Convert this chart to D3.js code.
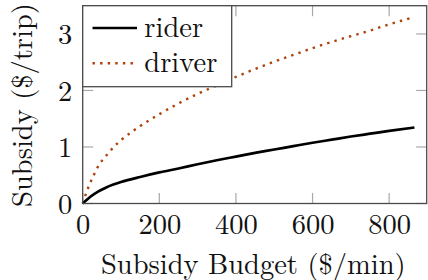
<!DOCTYPE html>
<html>
<head>
<meta charset="utf-8">
<script src="https://cdn.jsdelivr.net/npm/d3@7"></script>
<style>
  html, body { margin: 0; padding: 0; background: #fff; }
  svg { display: block; }
</style>
</head>
<body>
<svg id="chart" width="428" height="280"></svg>
<script>
// ---- data ----
const budgetRider = [0, 20, 40, 60, 80, 100, 150, 200, 250, 300, 350, 400, 450, 500, 550, 600, 650, 700, 750, 800, 866];
const riderSubsidy = [0, 0.12, 0.21, 0.28, 0.335, 0.38, 0.47, 0.55, 0.62, 0.695, 0.765, 0.83, 0.895, 0.955, 1.015, 1.075, 1.13, 1.185, 1.235, 1.285, 1.345];
const budgetDriver = [0, 10, 18, 26, 35, 45, 56, 69, 84, 100, 150, 200, 250, 300, 350, 400, 450, 500, 550, 600, 650, 700, 750, 800, 866];
const driverSubsidy = [0, 0.2, 0.34, 0.46, 0.59, 0.71, 0.80, 0.91, 1.02, 1.12, 1.37, 1.58, 1.77, 1.94, 2.09, 2.24, 2.38, 2.51, 2.63, 2.75, 2.86, 2.96, 3.06, 3.17, 3.30];
const xTicks = [0, 200, 400, 600, 800];
const yTicks = [0, 1, 2, 3];
const seriesNames = ["rider", "driver"];
const xTitle = "Subsidy Budget ($/min)";
const yTitle = "Subsidy ($/trip)";

// ---- layout ----
const FONT = '"Latin Modern Roman", "Liberation Serif", serif';
const L = 82.7, R = 426.7, T = 5.7, B = 203.5;
const svg = d3.select("#chart");
const x = d3.scaleLinear().domain([0, 898]).range([L, R]);
const y = d3.scaleLinear().domain([0, 3.5]).range([B, T]);
const tickLen = 10.5, tickColor = "#a8a8a8", axisColor = "#4a4a4a";
const driverColor = "#b0420a";
const dotDash = "2.4 5.2";

// ticks (inside, mirrored)
const gx = svg.append("g").attr("class", "xticks");
xTicks.forEach(v => {
  gx.append("line").attr("x1", x(v)).attr("x2", x(v)).attr("y1", B).attr("y2", B - tickLen)
    .attr("stroke", tickColor).attr("stroke-width", 1.2);
  gx.append("line").attr("x1", x(v)).attr("x2", x(v)).attr("y1", T).attr("y2", T + tickLen)
    .attr("stroke", tickColor).attr("stroke-width", 1.2);
});
const gy = svg.append("g").attr("class", "yticks");
yTicks.forEach(v => {
  gy.append("line").attr("x1", L).attr("x2", L + tickLen).attr("y1", y(v)).attr("y2", y(v))
    .attr("stroke", tickColor).attr("stroke-width", 1.2);
  gy.append("line").attr("x1", R).attr("x2", R - tickLen).attr("y1", y(v)).attr("y2", y(v))
    .attr("stroke", tickColor).attr("stroke-width", 1.2);
});

// tick labels via d3 axes (no lines)
const xAxis = svg.append("g").attr("transform", `translate(0,${B})`)
  .call(d3.axisBottom(x).tickValues(xTicks).tickSize(0).tickPadding(0).tickFormat(d3.format("d")));
xAxis.select(".domain").remove();
xAxis.selectAll("text").attr("dy", null).attr("y", 30).attr("font-size", 28.5)
  .style("font-family", FONT).attr("fill", "#111");
const yAxis = svg.append("g").attr("transform", `translate(${L},0)`)
  .call(d3.axisLeft(y).tickValues(yTicks).tickSize(0).tickPadding(0).tickFormat(d3.format("d")));
yAxis.select(".domain").remove();
yAxis.selectAll("text").attr("x", -10.5).attr("dy", "0.34em").attr("font-size", 28.5)
  .style("font-family", FONT).attr("fill", "#111");

// lines
const lineGen = d3.line().x(d => x(d[0])).y(d => y(d[1])).curve(d3.curveMonotoneX);
const riderPts = budgetRider.map((b, i) => [b, riderSubsidy[i]]);
const driverPts = budgetDriver.map((b, i) => [b, driverSubsidy[i]]);
svg.append("path").datum(driverPts).attr("d", lineGen).attr("fill", "none")
  .attr("stroke", driverColor).attr("stroke-width", 2.4).attr("stroke-dasharray", dotDash);
svg.append("path").datum(riderPts).attr("d", lineGen).attr("fill", "none")
  .attr("stroke", "#000").attr("stroke-width", 2.7).attr("stroke-linejoin", "round");

// frame
svg.append("rect").attr("x", L).attr("y", T).attr("width", R - L).attr("height", B - T)
  .attr("fill", "none").attr("stroke", axisColor).attr("stroke-width", 1.3);

// legend
const lg = svg.append("g");
lg.append("rect").attr("x", L).attr("y", T).attr("width", 149).attr("height", 81)
  .attr("fill", "#fff").attr("stroke", axisColor).attr("stroke-width", 1.3);
const legendRows = [
  { name: seriesNames[0], color: "#000", dash: null, w: 2.7, ly: 28, ty: 36.7 },
  { name: seriesNames[1], color: driverColor, dash: dotDash, w: 2.4, ly: 63.3, ty: 71.7 }
];
legendRows.forEach(r => {
  const ln = lg.append("line").attr("x1", 92.5).attr("x2", 137).attr("y1", r.ly).attr("y2", r.ly)
    .attr("stroke", r.color).attr("stroke-width", r.w);
  if (r.dash) ln.attr("stroke-dasharray", r.dash);
  lg.append("text").attr("x", 144.3).attr("y", r.ty).attr("font-size", 28.5)
    .style("font-family", FONT).attr("fill", "#111").text(r.name);
});

// axis titles
svg.append("text").attr("x", 253.3).attr("y", 273.5).attr("text-anchor", "middle")
  .attr("font-size", 28.5).style("font-family", FONT).attr("fill", "#111").text(xTitle);
svg.append("text").attr("transform", "translate(31.5,105) rotate(-90)").attr("text-anchor", "middle")
  .attr("font-size", 28.5).style("font-family", FONT).attr("fill", "#111").text(yTitle);
</script>
</body>
</html>
